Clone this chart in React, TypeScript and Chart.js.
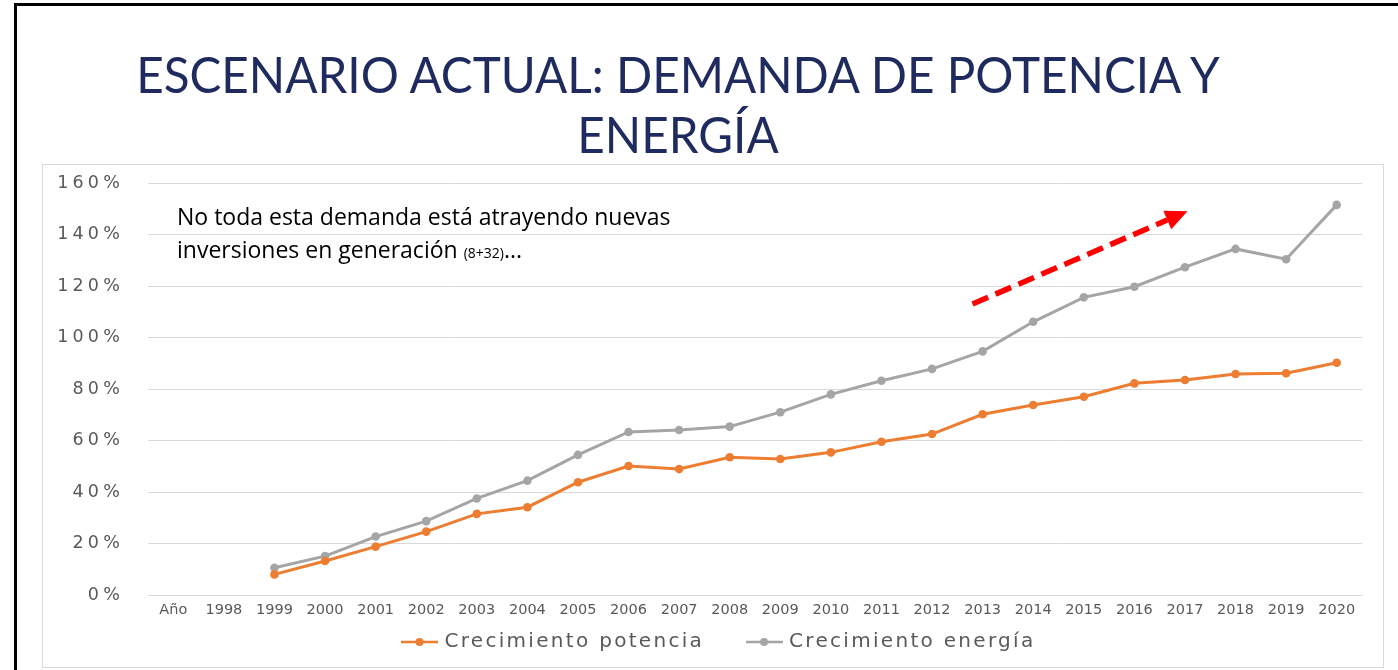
import React, { useEffect, useRef } from 'react';
import { Chart, registerables } from 'chart.js';

Chart.register(...registerables);

// ---------- data ----------
const categories = ['Año', '1998', '1999', '2000', '2001', '2002', '2003', '2004', '2005', '2006', '2007', '2008', '2009', '2010', '2011', '2012', '2013', '2014', '2015', '2016', '2017', '2018', '2019', '2020'];
const potencia = [null, null, 8.0, 13.2, 18.8, 24.6, 31.5, 34.1, 43.8, 50.1, 48.9, 53.5, 52.8, 55.4, 59.5, 62.5, 70.2, 73.8, 77.0, 82.2, 83.5, 85.8, 86.1, 90.2];
const energia = [null, null, 10.6, 15.1, 22.7, 28.7, 37.5, 44.4, 54.4, 63.3, 64.1, 65.4, 71.0, 77.9, 83.2, 87.8, 94.6, 106.1, 115.6, 119.7, 127.3, 134.4, 130.4, 151.5];
const seriesLabels = ['Crecimiento potencia', 'Crecimiento energía'];
const yMin = 0;
const yMax = 160;
const yStep = 20;
// arrow annotation in data units: [category index, percent]
const arrowStart = [15.8, 113];
const arrowEnd = [20.05, 149];

const titleLines = ['ESCENARIO ACTUAL: DEMANDA DE POTENCIA Y', 'ENERGÍA'];
const noteLine1 = 'No toda esta demanda está atrayendo nuevas';
const noteLine2a = 'inversiones en generación ';
const noteSmall = '(8+32)';
const noteTail = '...';

// ---------- styles ----------
const ORANGE = '#ED7D31';
const GRAY = '#A5A5A5';
const TEXT_GRAY = '#595959';
const GRID = '#D9D9D9';
const AXIS_FONT = 'DejaVu Sans';
const Y_LS = 4.2;
const LEGEND_LS = 2.3;
const LEGEND_FONT = 20;
const LEGEND_PAD = 45;

function makeMarker(color: string) {
  const c = document.createElement('canvas');
  c.width = 37;
  c.height = 12;
  const g = c.getContext('2d')!;
  g.strokeStyle = color;
  g.lineWidth = 2.5;
  g.beginPath();
  g.moveTo(0, 6);
  g.lineTo(37, 6);
  g.stroke();
  g.fillStyle = color;
  g.beginPath();
  g.arc(18.5, 6, 4, 0, Math.PI * 2);
  g.fill();
  return c;
}

function withSpacing(ctx: any, ls: number, fn: () => any) {
  ctx.save();
  try {
    ctx.letterSpacing = ls + 'px';
  } catch (e) {}
  const r = fn();
  ctx.restore();
  return r;
}

const tweaksPlugin = {
  id: 'tweaks',
  beforeLayout(chart: any) {
    const lg = chart.legend;
    if (lg && !lg.__tw) {
      lg.__tw = true;
      const fit0 = lg.fit;
      const draw0 = lg.draw;
      lg.fit = function () {
        withSpacing(this.ctx, LEGEND_LS, () => fit0.call(this));
        this.height = 40;
      };
      lg.draw = function () {
        withSpacing(this.ctx, LEGEND_LS, () => draw0.call(this));
      };
    }
  },
  afterLayout(chart: any) {
    const ys = chart.scales.y;
    if (ys && !ys.__tw) {
      ys.__tw = true;
      const dl = ys.drawLabels;
      ys.drawLabels = function (area: any) {
        const l = this.left;
        this.left = 0;
        withSpacing(this.ctx, Y_LS, () => dl.call(this, area));
        this.left = l;
      };
    }
    const lg = chart.legend;
    if (lg) {
      lg.top = chart.chartArea.bottom - 8;
      lg.height = 90;
      lg.bottom = lg.top + 90;
    }
  },
  afterDatasetsDraw(chart: any) {
    const xs = chart.scales.x;
    const ys = chart.scales.y;
    const ctx = chart.ctx;
    const x1 = xs.getPixelForValue(arrowStart[0]);
    const y1 = ys.getPixelForValue(arrowStart[1]);
    const x2 = xs.getPixelForValue(arrowEnd[0]);
    const y2 = ys.getPixelForValue(arrowEnd[1]);
    const ang = Math.atan2(y2 - y1, x2 - x1);
    const cos = Math.cos(ang);
    const sin = Math.sin(ang);
    const headLen = 22;
    const headW = 10;
    const bx = x2 - headLen * cos;
    const by = y2 - headLen * sin;
    ctx.save();
    ctx.strokeStyle = '#FF0000';
    ctx.lineWidth = 5.5;
    ctx.lineCap = 'butt';
    ctx.setLineDash([17, 8]);
    ctx.beginPath();
    ctx.moveTo(x1, y1);
    ctx.lineTo(bx, by);
    ctx.stroke();
    ctx.setLineDash([]);
    ctx.fillStyle = '#FF0000';
    ctx.beginPath();
    ctx.moveTo(x2, y2);
    ctx.lineTo(bx + headW * sin, by - headW * cos);
    ctx.lineTo(bx - headW * sin, by + headW * cos);
    ctx.closePath();
    ctx.fill();
    ctx.restore();
  },
};

export default function App() {
  const ref = useRef<HTMLCanvasElement | null>(null);

  useEffect(() => {
    const canvas = ref.current;
    if (!canvas) return;
    const colors = [ORANGE, GRAY];
    const chart = new Chart(canvas, {
      type: 'line',
      data: {
        labels: categories,
        datasets: [
          {
            label: seriesLabels[0],
            data: potencia,
            borderColor: ORANGE,
            backgroundColor: ORANGE,
            borderWidth: 3,
            pointRadius: 4.3,
            pointBorderWidth: 0,
            pointBackgroundColor: ORANGE,
            tension: 0,
          },
          {
            label: seriesLabels[1],
            data: energia,
            borderColor: GRAY,
            backgroundColor: GRAY,
            borderWidth: 3,
            pointRadius: 4.3,
            pointBorderWidth: 0,
            pointBackgroundColor: GRAY,
            tension: 0,
          },
        ],
      },
      options: {
        responsive: false,
        animation: false,
        events: [],
        layout: { padding: { top: 183, left: 78, right: 36, bottom: 5 } },
        plugins: {
          tooltip: { enabled: false },
          title: { display: false },
          legend: {
            display: true,
            position: 'bottom',
            labels: {
              usePointStyle: true,
              pointStyleWidth: 30,
              padding: LEGEND_PAD,
              color: TEXT_GRAY,
              font: { family: AXIS_FONT, size: LEGEND_FONT },
              generateLabels: (ch: any) =>
                ch.data.datasets.map((ds: any, i: number) => ({
                  text: ds.label,
                  pointStyle: makeMarker(colors[i]),
                  fillStyle: colors[i],
                  strokeStyle: colors[i],
                  lineWidth: 0,
                  hidden: false,
                  datasetIndex: i,
                  fontColor: TEXT_GRAY,
                })),
            },
          },
        },
        scales: {
          x: {
            type: 'category',
            offset: true,
            grid: { display: false, drawTicks: false },
            border: { display: false },
            ticks: {
              color: TEXT_GRAY,
              font: { family: AXIS_FONT, size: 14.5 },
              padding: 7,
              maxRotation: 0,
              autoSkip: false,
            },
            afterFit: (s: any) => {
              s.height = 30;
            },
          },
          y: {
            min: yMin,
            max: yMax,
            grid: { color: GRID, lineWidth: 1, drawTicks: false },
            border: { display: false },
            ticks: {
              stepSize: yStep,
              color: TEXT_GRAY,
              font: { family: AXIS_FONT, size: 17.5 },
              padding: 24,
              callback: (v: any) => v + '%',
            },
            afterFit: (s: any) => {
              s.width = 70;
            },
          },
        },
      },
      plugins: [tweaksPlugin],
    } as any);
    return () => chart.destroy();
  }, []);

  return (
    <div
      style={{
        position: 'absolute',
        left: 0,
        top: 0,
        width: 1398,
        height: 670,
        background: '#FFFFFF',
        overflow: 'hidden',
      }}
    >
      <div
        style={{
          position: 'absolute',
          left: 14,
          top: 3,
          width: 1400,
          height: 700,
          borderLeft: '3px solid #000',
          borderTop: '3px solid #000',
        }}
      />
      <div
        style={{
          position: 'absolute',
          left: 42,
          top: 164,
          width: 1340,
          height: 502,
          border: '1px solid #D9D9D9',
        }}
      />
      {titleLines.map((t, i) => (
        <div
          key={i}
          style={{
            position: 'absolute',
            left: 0,
            top: 48.5 + i * 60,
            width: 1356,
            textAlign: 'center',
            fontFamily: 'Lato',
            fontSize: 50,
            lineHeight: '50px',
            color: '#1F2B5E',
            whiteSpace: 'nowrap',
            transform: 'scaleX(0.953)',
            transformOrigin: '678px 0px',
          }}
        >
          {t}
        </div>
      ))}
      <canvas ref={ref} width={1398} height={670} style={{ position: 'absolute', left: 0, top: 0 }} />
      <div
        style={{
          position: 'absolute',
          left: 177,
          top: 200,
          fontFamily: '"Open Sans"',
          fontSize: 23,
          lineHeight: '33px',
          color: '#000',
          whiteSpace: 'nowrap',
        }}
      >
        <div>{noteLine1}</div>
        <div>
          {noteLine2a}
          <span style={{ fontSize: 14 }}>{noteSmall}</span>
          {noteTail}
        </div>
      </div>
    </div>
  );
}
